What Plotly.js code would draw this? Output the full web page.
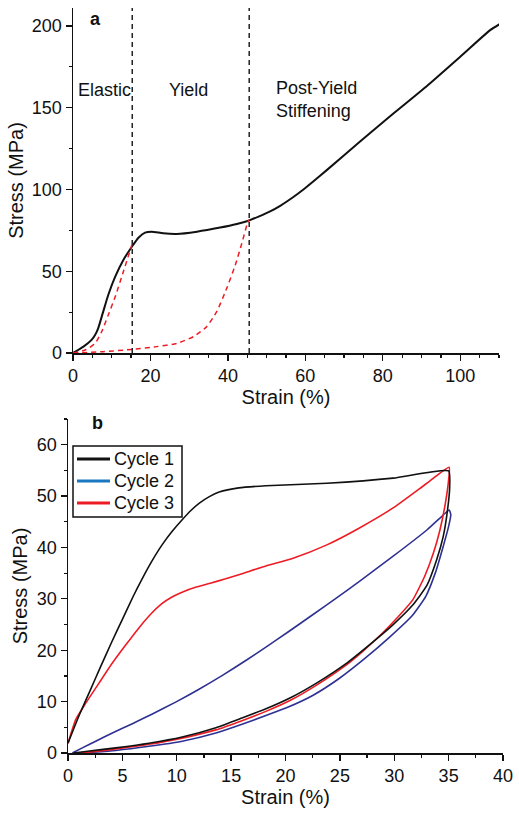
<!DOCTYPE html>
<html>
<head>
<meta charset="utf-8">
<script src="https://cdn.plot.ly/plotly-3.0.1.min.js"></script>
<style>html,body{margin:0;padding:0;background:#fff;}#chart{width:519px;height:815px;}</style>
</head>
<body>
<div id="chart"></div>
<script>
// ---- Panel a: stress-strain curve ----
var aStrain = [0, 2.7, 4.8, 5.7, 6.5, 7.8, 9.1, 10.9, 13.0, 15.2, 16.9, 18.6, 20.3, 23.3, 26.8, 32.0, 38.0, 42.3, 45.3, 47.9, 50.9, 53.5, 56.9, 59.5, 62.1, 65.6, 74.2, 82.8, 91.4, 100.0, 107.8, 110.2];
var aStress = [0, 3.9, 8.0, 11.0, 15.1, 25.3, 35.5, 46.7, 56.9, 65.0, 70.5, 73.6, 74.2, 73.2, 72.8, 74.2, 76.7, 78.9, 80.9, 83.4, 86.6, 90.0, 95.4, 100.0, 105.0, 112.0, 129.5, 146.6, 163.3, 181.2, 197.6, 201.2];
// unloading from the end of the elastic region (dashed red)
var un1Strain = [0, 3.1, 5.7, 7.4, 9.1, 10.9, 13.0, 15.2];
var un1Stress = [0, 1.8, 5.9, 13.0, 23.2, 34.4, 49.7, 66.0];
// unloading from the end of the yield region (dashed red)
var un2Strain = [0, 7.8, 15.2, 21.6, 26.8, 31.1, 34.5, 37.1, 39.7, 41.9, 43.6, 44.9, 45.4];
var un2Stress = [0, 0.8, 2.2, 3.9, 5.9, 10.0, 16.1, 25.3, 39.6, 53.8, 67.1, 78.3, 81.5];
var regionBounds = [15.3, 45.5];
var regionLabels = ["Elastic", "Yield", "Post-Yield<br>Stiffening"];
var regionLabelX = [0.8, 24.3, 51.9];
var regionLabelY = [161, 161, 155];

// ---- Panel b: cyclic loading ----
var c1Strain = [0, 1.0, 2.0, 3.0, 4.0, 5.0, 6.0, 6.84, 7.7, 8.68, 9.6, 10.5, 11.3, 12.05, 13.0, 13.9, 15.7, 18.2, 23.8, 29.9, 35.0, 35.1, 34.9, 34.5, 33.9, 33.0, 31.7, 29.9, 27.8, 25.5, 23.0, 20.5, 18.2, 16.0, 13.6, 10.5, 7.45, 4.4, 1.63, 0.5];
var c1Stress = [1.9, 7.2, 12.0, 16.8, 21.5, 26.0, 30.5, 34.0, 37.3, 40.6, 43.2, 45.4, 47.2, 48.6, 49.9, 50.8, 51.6, 52.0, 52.5, 53.5, 54.9, 51.9, 47.3, 42.1, 37.6, 32.6, 28.8, 25.0, 21.2, 17.3, 13.8, 10.8, 8.6, 6.8, 4.9, 3.1, 1.9, 1.0, 0.3, 0];
var c2Strain = [0.4, 1.32, 2.55, 4.08, 5.92, 7.76, 9.9, 12.05, 14.2, 16.35, 18.2, 20.2, 22.5, 24.7, 26.8, 29.9, 33.0, 34.5, 35.05, 35.2, 35.0, 34.5, 33.8, 32.9, 31.6, 29.5, 27.3, 25.0, 22.5, 20.2, 18.2, 16.0, 13.6, 10.5, 7.45, 4.4, 1.3];
var c2Stress = [0, 1.0, 2.3, 3.9, 5.7, 7.6, 9.9, 12.4, 15.1, 18.0, 20.6, 23.5, 26.9, 30.2, 33.4, 38.3, 43.4, 46.3, 47.3, 46.4, 44.1, 40.2, 35.2, 30.5, 26.6, 22.4, 18.4, 14.6, 11.2, 8.9, 7.3, 5.6, 3.9, 2.3, 1.3, 0.5, 0];
var c3Strain = [0, 0.71, 1.63, 2.85, 4.08, 5.3, 6.5, 7.6, 8.6, 9.6, 10.6, 11.8, 13.0, 14.5, 16.0, 18.2, 20.7, 23.8, 26.8, 29.9, 33.0, 35.05, 35.0, 34.7, 34.2, 33.6, 32.8, 31.7, 30.4, 28.9, 27.0, 25.5, 23.0, 20.5, 18.2, 16.0, 13.6, 10.5, 7.45, 4.4, 1.63, 0.8];
var c3Stress = [1.9, 6.5, 9.7, 13.6, 17.5, 21.0, 24.3, 27.0, 29.0, 30.4, 31.4, 32.3, 33.0, 33.9, 34.9, 36.4, 37.9, 40.5, 43.8, 47.7, 52.5, 55.6, 53.2, 48.6, 43.4, 38.9, 34.4, 29.8, 26.6, 23.3, 19.6, 17.0, 13.4, 10.3, 8.1, 6.3, 4.5, 2.9, 1.7, 0.8, 0.1, 0];
var cycleNames = ["Cycle 1", "Cycle 2", "Cycle 3"];
var legendColors = ["#111111", "#1a78c2", "#ed1c24"];

var FONT = "Liberation Sans, Arial, Helvetica, sans-serif";
var black = "#111111", red = "#ed1c24", navy = "#2e3192";

var traces = [
  {x: aStrain, y: aStress, mode: "lines", line: {color: black, width: 2, shape: "spline", smoothing: 0.6}, xaxis: "x", yaxis: "y"},
  {x: un1Strain, y: un1Stress, mode: "lines", line: {color: red, width: 1.5, dash: "5px,4px", shape: "spline", smoothing: 0.6}, xaxis: "x", yaxis: "y"},
  {x: un2Strain, y: un2Stress, mode: "lines", line: {color: red, width: 1.5, dash: "5px,4px", shape: "spline", smoothing: 0.6}, xaxis: "x", yaxis: "y"},
  {x: c2Strain, y: c2Stress, mode: "lines", name: cycleNames[1], line: {color: navy, width: 1.6, shape: "spline", smoothing: 0.5}, xaxis: "x2", yaxis: "y2"},
  {x: c3Strain, y: c3Stress, mode: "lines", name: cycleNames[2], line: {color: red, width: 1.6, shape: "spline", smoothing: 0.5}, xaxis: "x2", yaxis: "y2"},
  {x: c1Strain, y: c1Stress, mode: "lines", name: cycleNames[0], line: {color: black, width: 1.6, shape: "spline", smoothing: 0.5}, xaxis: "x2", yaxis: "y2"}
];

// paper-coordinate helpers (plot area: left 68, top 8, width 435, height 745)
function px(v) { return (v - 68) / 435; }
function py(v) { return (753 - v) / 745; }

var shapes = regionBounds.map(function (b) {
  return {type: "line", xref: "x", yref: "y domain", x0: b, x1: b, y0: 0, y1: 1,
          line: {color: "#222", width: 1.5, dash: "5px,4px"}};
});
// legend box for panel b
shapes.push({type: "rect", xref: "paper", yref: "paper", x0: px(73), x1: px(182), y0: py(517), y1: py(446),
             line: {color: black, width: 1.5}, fillcolor: "#fff", layer: "above"});
var annotations = [];
cycleNames.forEach(function (n, i) {
  var yy = 459 + i * 22;
  shapes.push({type: "line", xref: "paper", yref: "paper", x0: px(77), x1: px(110), y0: py(yy), y1: py(yy),
               line: {color: legendColors[i], width: 3}, layer: "above"});
  annotations.push({text: n, xref: "paper", yref: "paper", x: px(112), y: py(yy), xanchor: "left", yanchor: "middle",
                    showarrow: false, font: {family: FONT, size: 18, color: black}});
});

regionLabels.forEach(function (t, i) {
  annotations.push({text: t, x: regionLabelX[i], y: regionLabelY[i], xref: "x", yref: "y",
          xanchor: "left", yanchor: "middle", align: "left", showarrow: false,
          font: {family: FONT, size: 18, color: black}});
});
annotations.push({text: "<b>a</b>", xref: "paper", yref: "paper", x: px(95), y: py(19), xanchor: "center", yanchor: "middle", showarrow: false, font: {family: FONT, size: 18, color: black}});
annotations.push({text: "<b>b</b>", xref: "paper", yref: "paper", x: px(97), y: py(423), xanchor: "center", yanchor: "middle", showarrow: false, font: {family: FONT, size: 18, color: black}});

function ax(extra) {
  var base = {showgrid: false, zeroline: false, showline: true, linecolor: black, linewidth: 1.5,
    ticks: "outside", ticklen: 6, tickwidth: 1.3, tickcolor: black,
    tickfont: {family: FONT, size: 18, color: black},
    minor: {ticks: "outside", ticklen: 3, tickwidth: 1.2, tickcolor: black, showgrid: false}};
  for (var k in extra) base[k] = extra[k];
  return base;
}
var titleFont = {family: FONT, size: 20, color: black};

var layout = {
  width: 519, height: 815,
  margin: {l: 68, r: 16, t: 8, b: 62},
  paper_bgcolor: "#fff", plot_bgcolor: "#fff",
  font: {family: FONT, color: black},
  showlegend: false,
  xaxis: ax({domain: [px(73), px(499)], range: [0, 110], tick0: 0, dtick: 20, anchor: "y",
             title: {text: "Strain (%)", font: titleFont, standoff: 1}}),
  yaxis: ax({domain: [py(353), 1], range: [0, 211], tick0: 0, dtick: 50, anchor: "x",
             title: {text: "Stress (MPa)", font: titleFont, standoff: 3}}),
  xaxis2: ax({domain: [0, 1], range: [0, 40], tick0: 0, dtick: 5, anchor: "y2",
             title: {text: "Strain (%)", font: titleFont, standoff: 3}}),
  yaxis2: ax({domain: [0, py(419)], range: [0, 65], tick0: 0, dtick: 10, anchor: "x2",
             title: {text: "Stress (MPa)", font: titleFont, standoff: 4}}),
  shapes: shapes,
  annotations: annotations
};
layout.xaxis.minor.dtick = 5;
layout.yaxis.minor.dtick = 25;
layout.xaxis2.minor.dtick = 2.5;
layout.yaxis2.minor.dtick = 5;

Plotly.newPlot("chart", traces, layout, {displayModeBar: false, staticPlot: true});
</script>
</body>
</html>
